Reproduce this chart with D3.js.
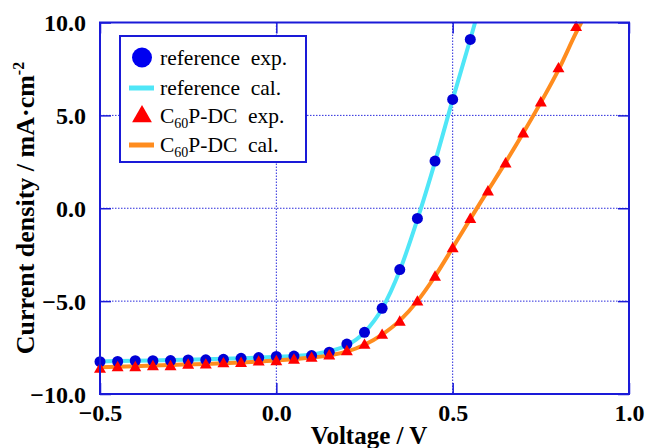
<!DOCTYPE html>
<html>
<head>
<meta charset="utf-8">
<script src="https://cdn.jsdelivr.net/npm/d3@7"></script>
<style>
    body { margin: 0; background: #fff; }
    svg { display: block; font-family: "Liberation Serif", "Times New Roman", serif; }
    .grid line { stroke: #2b2bdc; stroke-width: 1; stroke-dasharray: 1.5,1.5; }
</style>
</head>
<body>
<div id="chart"></div>
<script>
var margin = {top: 22.5, right: 19, bottom: 54, left: 100};
var width = 648 - margin.left - margin.right;
var height = 448 - margin.top - margin.bottom;
var serif = "'Liberation Serif', 'Times New Roman', serif";

// measured points, reference cell
var refExpV = [-0.5, -0.45, -0.4, -0.35, -0.3, -0.25, -0.2, -0.15, -0.1, -0.05, 0.0,
               0.05, 0.1, 0.15, 0.2, 0.25, 0.3, 0.35, 0.4, 0.45, 0.5, 0.55];
var refExpJ = [-8.26, -8.25, -8.21, -8.21, -8.2, -8.17, -8.16, -8.13, -8.08, -8.04, -7.98,
               -7.96, -7.93, -7.75, -7.31, -6.68, -5.39, -3.30, -0.55, 2.54, 5.86, 9.09];

// calculated curve, reference cell
var refCalV = [-0.5, -0.4, -0.3, -0.2, -0.1, 0.0, 0.05, 0.1, 0.15, 0.2, 0.25,
               0.3, 0.35, 0.4, 0.45, 0.5, 0.55, 0.565];
var refCalJ = [-8.25, -8.21, -8.17, -8.13, -8.07, -8.0, -7.95, -7.87, -7.7, -7.38, -6.68,
               -5.4, -3.35, -0.6, 2.5, 5.85, 9.1, 10.1];

// measured points, C60P-DC cell
var c60ExpV = [-0.5, -0.45, -0.4, -0.35, -0.3, -0.25, -0.2, -0.15, -0.1, -0.05, 0.0,
               0.05, 0.1, 0.15, 0.2, 0.25, 0.3, 0.35, 0.4, 0.45, 0.5, 0.55, 0.6,
               0.65, 0.7, 0.75, 0.8, 0.85];
var c60ExpJ = [-8.62, -8.53, -8.53, -8.48, -8.48, -8.4, -8.39, -8.32, -8.3, -8.23, -8.21,
               -8.13, -8.03, -7.9, -7.67, -7.33, -6.79, -6.08, -5.0, -3.66, -2.13, -0.55, 0.93,
               2.44, 4.05, 5.72, 7.56, 9.78];

// calculated curve, C60P-DC cell
var c60CalV = [-0.5, -0.4, -0.3, -0.2, -0.1, 0.0, 0.05, 0.1, 0.15, 0.2, 0.25, 0.3,
               0.35, 0.4, 0.45, 0.5, 0.55, 0.6, 0.65, 0.7, 0.75, 0.8, 0.85, 0.87];
var c60CalJ = [-8.56, -8.5, -8.44, -8.38, -8.3, -8.2, -8.13, -8.04, -7.92, -7.72, -7.35, -6.8,
               -6.05, -5.0, -3.66, -2.13, -0.57, 0.95, 2.47, 4.05, 5.7, 7.45, 9.45, 10.2];

var xTicks = [-0.5, 0.0, 0.5, 1.0];
var yTicks = [-10, -5, 0, 5, 10];

var blue = "#0000d6";
var frame = "#1a1ad8";

function zip(a, b) {
    return a.map(function (v, i) { return {x: v, y: b[i]}; });
}

var svg = d3.select("#chart").append("svg")
    .attr("width", 648)
    .attr("height", 448);

var g = svg.append("g")
    .attr("transform", "translate(" + margin.left + "," + margin.top + ")");

var xScale = d3.scaleLinear().domain([-0.5, 1.0]).range([0, width]);
var yScale = d3.scaleLinear().domain([-10, 10]).range([height, 0]);

// dotted grid at the inner ticks
var grid = g.append("g").attr("class", "grid");
grid.selectAll(".gx")
    .data(xTicks.slice(1, -1))
    .enter().append("line")
    .attr("x1", function(d) { return xScale(d); })
    .attr("x2", function(d) { return xScale(d); })
    .attr("y1", 0)
    .attr("y2", height);
grid.selectAll(".gy")
    .data(yTicks.slice(1, -1))
    .enter().append("line")
    .attr("y1", function(d) { return yScale(d); })
    .attr("y2", function(d) { return yScale(d); })
    .attr("x1", 0)
    .attr("x2", width);

// axes, ticks pointing inward on all four sides
function styleAxis(sel) {
    sel.select(".domain").remove();
    sel.selectAll(".tick line").attr("stroke", frame).attr("stroke-width", 1.5);
    sel.selectAll(".tick text")
        .attr("fill", "#000")
        .style("font-family", serif)
        .style("font-size", "24px")
        .style("font-weight", "bold");
}

g.append("g")
    .attr("transform", "translate(0," + height + ")")
    .call(d3.axisBottom(xScale).tickValues(xTicks).tickFormat(d3.format(".1f"))
        .tickSizeInner(-11).tickPadding(7))
    .call(styleAxis)
    .selectAll(".tick text").attr("dy", "0.85em");

g.append("g")
    .call(d3.axisTop(xScale).tickValues(xTicks).tickSizeInner(-11).tickFormat(""))
    .call(styleAxis);

g.append("g")
    .call(d3.axisLeft(yScale).tickValues(yTicks).tickFormat(d3.format(".1f"))
        .tickSizeInner(-11).tickPadding(14))
    .call(styleAxis)
    .selectAll(".tick text").attr("dy", "0.35em");

g.append("g")
    .attr("transform", "translate(" + width + ",0)")
    .call(d3.axisRight(yScale).tickValues(yTicks).tickSizeInner(-11).tickFormat(""))
    .call(styleAxis);

// clip the curves to the plot box
g.append("clipPath").attr("id", "clip")
    .append("rect").attr("width", width).attr("height", height);

var line = d3.line()
    .x(function(d) { return xScale(d.x); })
    .y(function(d) { return yScale(d.y); })
    .curve(d3.curveMonotoneX);

var curves = g.append("g").attr("clip-path", "url(#clip)");
curves.append("path")
    .datum(zip(refCalV, refCalJ))
    .attr("fill", "none")
    .attr("stroke", "#4fe6f7")
    .attr("stroke-width", 4)
    .attr("d", line);
curves.append("path")
    .datum(zip(c60CalV, c60CalJ))
    .attr("fill", "none")
    .attr("stroke", "#ff8c1e")
    .attr("stroke-width", 4)
    .attr("d", line);

g.selectAll(".dot")
    .data(zip(refExpV, refExpJ))
    .enter().append("circle")
    .attr("class", "dot")
    .attr("cx", function(d) { return xScale(d.x); })
    .attr("cy", function(d) { return yScale(d.y); })
    .attr("r", 5.5)
    .attr("fill", blue);

var tri = d3.symbol().type(d3.symbolTriangle).size(62);
g.selectAll(".tri")
    .data(zip(c60ExpV, c60ExpJ))
    .enter().append("path")
    .attr("class", "tri")
    .attr("d", tri)
    .attr("transform", function(d) { return "translate(" + xScale(d.x) + "," + (yScale(d.y) + 1) + ")"; })
    .attr("fill", "#ff0000");

// frame
g.append("rect")
    .attr("width", width)
    .attr("height", height)
    .attr("fill", "none")
    .attr("stroke", frame)
    .attr("stroke-width", 2);

// axis titles
svg.append("text")
    .attr("x", 369)
    .attr("y", 444)
    .attr("text-anchor", "middle")
    .style("font-size", "25px")
    .style("font-weight", "bold")
    .text("Voltage / V");

var yTitle = svg.append("text")
    .attr("transform", "translate(34," + 208 + ") rotate(-90)")
    .attr("text-anchor", "middle")
    .style("font-size", "26px")
    .style("font-weight", "bold");
yTitle.append("tspan").text("Current density / mA\u00b7cm");
yTitle.append("tspan").attr("dy", -10).style("font-size", "16px").text("-2");

// legend
var legend = svg.append("g").attr("transform", "translate(120,36)");
legend.append("rect")
    .attr("width", 186)
    .attr("height", 126)
    .attr("fill", "#fff")
    .attr("stroke", frame)
    .attr("stroke-width", 2);

var rows = [21.5, 52, 79.5, 109];
legend.append("circle").attr("cx", 22).attr("cy", rows[0]).attr("r", 10).attr("fill", "#0000f0");
legend.append("line").attr("x1", 9).attr("x2", 34).attr("y1", rows[1]).attr("y2", rows[1])
    .attr("stroke", "#4fe6f7").attr("stroke-width", 5);
legend.append("path").attr("d", d3.symbol().type(d3.symbolTriangle).size(170))
    .attr("transform", "translate(22," + (rows[2] + 1) + ")").attr("fill", "#ff0000");
legend.append("line").attr("x1", 9).attr("x2", 34).attr("y1", rows[3]).attr("y2", rows[3])
    .attr("stroke", "#ff8c1e").attr("stroke-width", 5);

function legendText(y) {
    return legend.append("text")
        .attr("x", 40)
        .attr("y", y + 7)
        .style("font-size", "21.5px")
        .style("white-space", "pre");
}
legendText(rows[0]).text("reference  exp.");
legendText(rows[1]).text("reference  cal.");

var t3 = legendText(rows[2]);
t3.append("tspan").text("C");
t3.append("tspan").attr("dy", 5).style("font-size", "14px").text("60");
t3.append("tspan").attr("dy", -5).text("P-DC  exp.");

var t4 = legendText(rows[3]);
t4.append("tspan").text("C");
t4.append("tspan").attr("dy", 5).style("font-size", "14px").text("60");
t4.append("tspan").attr("dy", -5).text("P-DC  cal.");
</script>
</body>
</html>
